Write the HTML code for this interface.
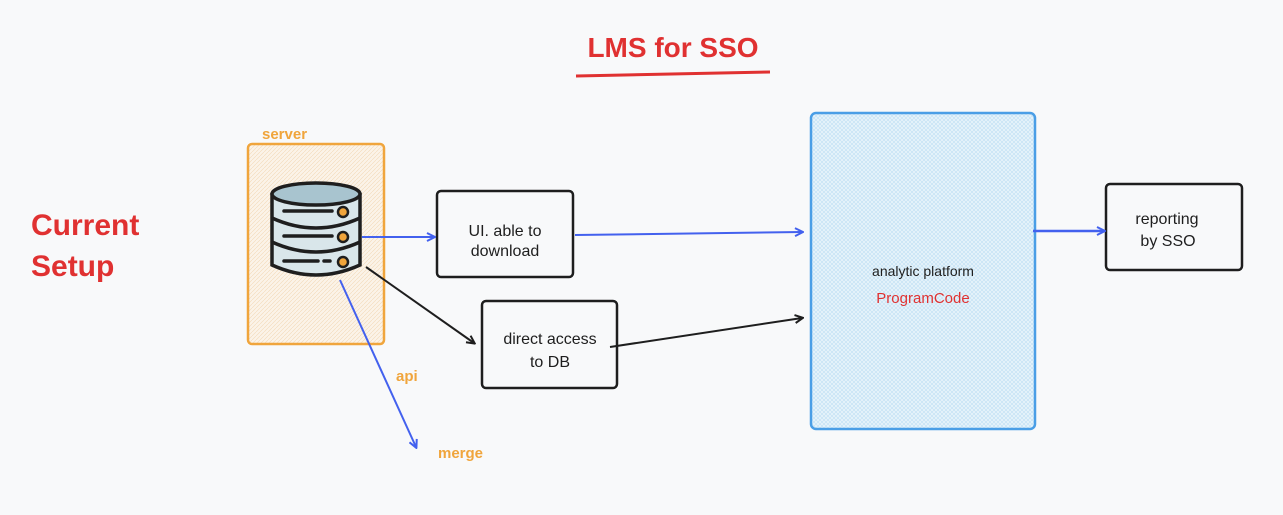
<!DOCTYPE html>
<html><head><style>
html,body{margin:0;padding:0;background:#f8f9fa;}
svg{display:block;font-family:"Liberation Sans",sans-serif;}
</style></head><body>
<svg width="1283" height="515" viewBox="0 0 1283 515" xmlns="http://www.w3.org/2000/svg">
<defs>
<pattern id="po" width="4" height="4" patternUnits="userSpaceOnUse"><rect width="4" height="4" fill="#fbf3e8"/><path d="M0 4L4 0" stroke="#f2d9b8" stroke-width="0.6"/></pattern>
<pattern id="pb" width="4" height="4" patternUnits="userSpaceOnUse"><rect width="4" height="4" fill="#e6f3fb"/><path d="M0 4L4 0M0 0L4 4" stroke="#bfe0f3" stroke-width="0.6"/></pattern>
<marker id="ab" markerWidth="10" markerHeight="10" refX="8" refY="5" orient="auto" markerUnits="userSpaceOnUse"><path d="M1 1L9 5L1 9" fill="none" stroke="#4361ee" stroke-width="2"/></marker>
<marker id="ak" markerWidth="10" markerHeight="10" refX="8" refY="5" orient="auto" markerUnits="userSpaceOnUse"><path d="M1 1L9 5L1 9" fill="none" stroke="#1e1e1e" stroke-width="2"/></marker>
</defs>
<text x="673" y="57" text-anchor="middle" font-size="28" font-weight="bold" fill="#e03131">LMS for SSO</text>
<path d="M576 76 L770 72" stroke="#e03131" stroke-width="3" fill="none"/>
<text x="31" y="235" font-size="30" font-weight="bold" fill="#e03131">Current</text>
<text x="31" y="276" font-size="30" font-weight="bold" fill="#e03131">Setup</text>
<text x="262" y="139" font-size="15" font-weight="bold" fill="#f0a53c">server</text>
<rect x="248" y="144" width="136" height="200" rx="4" fill="url(#po)" stroke="#f0a53c" stroke-width="2.5"/>
<g stroke="#1e1e1e" stroke-width="3.5" fill="#d9e6ea">
<path d="M272 193 V265 Q316 285 360 265 V193"/>
<ellipse cx="316" cy="194" rx="44" ry="11" fill="#a8c4cf"/>
<path d="M272 218 Q316 238 360 218 M272 242 Q316 262 360 242" fill="none"/>
<path d="M284 211 H332 M284 236 H332 M284 261 H318 M324 261 H330" fill="none" stroke-linecap="round"/>
<circle cx="343" cy="212" r="5" fill="#f0a53c" stroke-width="2.5"/>
<circle cx="343" cy="237" r="5" fill="#f0a53c" stroke-width="2.5"/>
<circle cx="343" cy="262" r="5" fill="#f0a53c" stroke-width="2.5"/>
</g>
<rect x="437" y="191" width="136" height="86" rx="4" fill="none" stroke="#1e1e1e" stroke-width="2.5"/>
<text x="505" y="236" text-anchor="middle" font-size="16" fill="#1e1e1e">UI. able to</text>
<text x="505" y="256" text-anchor="middle" font-size="16" fill="#1e1e1e">download</text>
<rect x="482" y="301" width="135" height="87" rx="4" fill="none" stroke="#1e1e1e" stroke-width="2.5"/>
<text x="550" y="344" text-anchor="middle" font-size="16" fill="#1e1e1e">direct access</text>
<text x="550" y="367" text-anchor="middle" font-size="16" fill="#1e1e1e">to DB</text>
<rect x="811" y="113" width="224" height="316" rx="5" fill="url(#pb)" stroke="#4a9ee6" stroke-width="2.5"/>
<text x="923" y="276" text-anchor="middle" font-size="14" fill="#1e1e1e">analytic platform</text>
<text x="923" y="303" text-anchor="middle" font-size="15" fill="#e03131">ProgramCode</text>
<rect x="1106" y="184" width="136" height="86" rx="4" fill="none" stroke="#1e1e1e" stroke-width="2.5"/>
<text x="1167" y="224" text-anchor="middle" font-size="16" fill="#1e1e1e">reporting</text>
<text x="1168" y="246" text-anchor="middle" font-size="16" fill="#1e1e1e">by SSO</text>
<g fill="none" stroke-width="2">
<path d="M362 237 L434 237" stroke="#4361ee" marker-end="url(#ab)"/>
<path d="M575 235 L802 232" stroke="#4361ee" marker-end="url(#ab)"/>
<path d="M1033 231 L1104 231" stroke="#4361ee" stroke-width="2.5" marker-end="url(#ab)"/>
<path d="M366 267 L474 343" stroke="#1e1e1e" marker-end="url(#ak)"/>
<path d="M610 347 L802 318" stroke="#1e1e1e" marker-end="url(#ak)"/>
<path d="M340 280 L416 447" stroke="#4361ee" marker-end="url(#ab)"/>
</g>
<text x="396" y="381" font-size="15" font-weight="bold" fill="#f0a53c">api</text>
<text x="438" y="458" font-size="15" font-weight="bold" fill="#f0a53c">merge</text>
</svg>
</body></html>
